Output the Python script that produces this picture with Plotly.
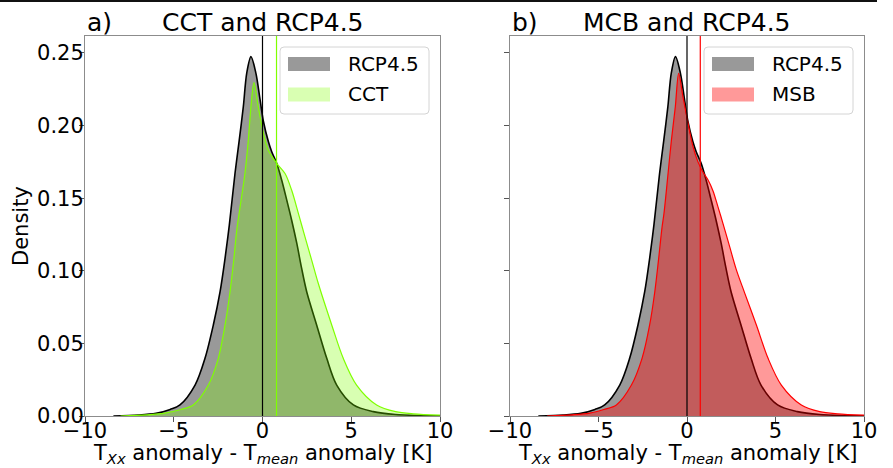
import plotly.graph_objects as go

# ---- data ----
rcp_x = [-8.4, -7.0, -6.0, -5.2, -4.65, -3.8, -3.24, -2.77, -2.39, -2.11, -1.87, -1.55, -1.31, -1.08,
         -0.89, -0.65, -0.37, -0.14, 0.05, 0.33, 0.52, 0.8, 1.08, 1.36, 1.64, 1.93, 2.2, 2.49,
         3.05, 3.62, 4.18, 5.12, 6.24, 7.5, 9.0, 10.0]
rcp_y = [0.0, 0.0006, 0.0018, 0.0045, 0.0076, 0.0213, 0.0397, 0.0627, 0.0856, 0.1086, 0.1315,
         0.167, 0.190, 0.213, 0.236, 0.2475, 0.236, 0.218, 0.203, 0.189, 0.182, 0.174, 0.1625,
         0.149, 0.135, 0.119, 0.102, 0.0856, 0.0627, 0.0397, 0.0213, 0.0076, 0.003, 0.001,
         0.0003, 0.0001]

cct_x = [-8.0, -6.5, -5.5, -4.6, -3.9, -3.05, -2.49, -2.11, -1.83, -1.61, -1.45, -1.25, -0.99,
         -0.8, -0.65, -0.48, -0.24, 0.01, 0.33, 0.8, 1.27, 1.64, 2.02, 2.39, 2.77, 3.14, 3.9,
         4.55, 5.3, 6.43, 7.5, 8.5, 10.0]
cct_y = [0.0, 0.0008, 0.002, 0.0045, 0.0076, 0.0213, 0.0397, 0.0627, 0.0856, 0.1086, 0.128,
         0.145, 0.167, 0.190, 0.213, 0.2296, 0.213, 0.197, 0.183, 0.174, 0.167, 0.1556, 0.1396,
         0.1235, 0.1074, 0.0914, 0.0627, 0.0397, 0.0213, 0.0076, 0.003, 0.0015, 0.0006]

msb_x = [-7.9, -6.5, -5.5, -4.7, -3.99, -3.14, -2.54, -2.11, -1.82, -1.6, -1.41, -1.30, -1.07,
         -0.88, -0.66, -0.47, -0.23, 0.06, 0.34, 0.62, 0.9, 1.19, 1.47, 1.75, 2.03, 2.41, 2.79,
         3.25, 3.92, 4.58, 5.33, 6.46, 7.5, 8.5, 10.0]
msb_y = [0.0, 0.0008, 0.002, 0.0045, 0.0076, 0.0213, 0.0397, 0.0627, 0.0856, 0.1086, 0.13,
         0.1396, 0.167, 0.190, 0.213, 0.236, 0.22, 0.2016, 0.1855, 0.175, 0.168, 0.1625, 0.1550,
         0.144, 0.1327, 0.1166, 0.1006, 0.085, 0.0627, 0.0397, 0.0213, 0.0076, 0.003, 0.0015,
         0.0006]

rcp_mean = 0.0
cct_mean = 0.79
msb_mean = 0.75

x_ticks = [-10, -5, 0, 5, 10]
y_ticks = [0.0, 0.05, 0.10, 0.15, 0.20, 0.25]

titles = ["CCT and RCP4.5", "MCB and RCP4.5"]
panel_tags = ["a)", "b)"]
legend_a = ["RCP4.5", "CCT"]
legend_b = ["RCP4.5", "MSB"]
x_label = "T<sub><i>Xx</i></sub> anomaly - T<sub><i>mean</i></sub> anomaly [K]"
y_label = "Density"

FONT = "DejaVu Sans"
W, H = 893, 468

fig = go.Figure()

GRAY_FILL = "rgba(0,0,0,0.4)"
GREEN = "rgb(127,255,0)"
GREEN_FILL = "rgba(127,255,0,0.3)"
RED = "rgb(255,0,0)"
RED_FILL = "rgba(255,0,0,0.4)"
SMOOTH = 0.9

series = [
    (rcp_x, rcp_y, "black", 1.6, GRAY_FILL, "x", "y", "RCP4.5"),
    (cct_x, cct_y, GREEN, 1.2, GREEN_FILL, "x", "y", "CCT"),
    (rcp_x, rcp_y, "black", 1.6, GRAY_FILL, "x2", "y2", "RCP4.5"),
    (msb_x, msb_y, RED, 1.2, RED_FILL, "x2", "y2", "MSB"),
]
for xs, ys, col, lw, fc, xa, ya, nm in series:
    fig.add_trace(go.Scatter(x=xs, y=ys, mode="lines", fill="tozeroy", fillcolor=fc, name=nm,
                             line=dict(color=col, width=lw, shape="spline", smoothing=SMOOTH),
                             showlegend=False, xaxis=xa, yaxis=ya))

# vertical mean lines
for xv, col, xr in [(rcp_mean, "black", "x"), (cct_mean, GREEN, "x"),
                    (rcp_mean, "black", "x2"), (msb_mean, RED, "x2")]:
    fig.add_shape(type="line", xref=xr, yref=xr.replace("x", "y") + " domain",
                  x0=xv, x1=xv, y0=0, y1=1, line=dict(color=col, width=1.2))

# top border line of the figure
fig.add_shape(type="line", xref="paper", yref="paper", x0=0, x1=877 / W, y0=1 - 1 / H, y1=1 - 1 / H,
              line=dict(color="#111111", width=2))

xdom_a = [85 / W, 440 / W]
xdom_b = [510 / W, 864 / W]
ydom = [(H - 416) / H, (H - 36) / H]

axis_common = dict(showline=True, mirror=True, linecolor="#8c8c8c", linewidth=1, ticks="outside",
                   ticklen=5, tickcolor="#555555", showgrid=False, zeroline=False, automargin=False,
                   tickfont=dict(family=FONT, size=21, color="black"))

fig.update_layout(
    width=W, height=H, paper_bgcolor="white", plot_bgcolor="white",
    margin=dict(l=0, r=0, t=0, b=0, autoexpand=False),
    font=dict(family=FONT, color="black"),
    showlegend=False,
    xaxis=dict(domain=xdom_a, anchor="y", range=[-10, 10], tickvals=x_ticks,
               ticklabelstandoff=-9, **axis_common),
    yaxis=dict(domain=ydom, anchor="x", range=[0, 0.2617], tickvals=y_ticks, tickformat=".2f",
               ticklabelstandoff=-9, **axis_common),
    xaxis2=dict(domain=xdom_b, anchor="y2", range=[-10, 10], tickvals=x_ticks,
                ticklabelstandoff=-9, **axis_common),
    yaxis2=dict(domain=ydom, anchor="x2", range=[0, 0.2617], tickvals=y_ticks,
                showticklabels=False, **axis_common),
)

# axis titles
for dom in (xdom_a, xdom_b):
    fig.add_annotation(text=x_label, xref="paper", yref="paper", x=(dom[0] + dom[1]) / 2,
                       y=(H - 454) / H, xanchor="center", yanchor="middle", showarrow=False,
                       font=dict(family=FONT, size=21, color="black"))
fig.add_annotation(text=y_label, xref="paper", yref="paper", x=21 / W, y=(ydom[0] + ydom[1]) / 2,
                   xanchor="center", yanchor="middle", textangle=-90, showarrow=False,
                   font=dict(family=FONT, size=21, color="black"))

# panel titles
for i, (tag, title) in enumerate(zip(panel_tags, titles)):
    dom = xdom_a if i == 0 else xdom_b
    fig.add_annotation(text=tag, xref="paper", yref="paper", x=dom[0], y=(H - 22) / H,
                       xanchor="left", yanchor="middle", showarrow=False,
                       font=dict(family=FONT, size=25, color="black"))
    fig.add_annotation(text=title, xref="paper", yref="paper", x=(dom[0] + dom[1]) / 2,
                       y=(H - 22) / H, xanchor="center", yanchor="middle", showarrow=False,
                       font=dict(family=FONT, size=25, color="black"))

# legends (drawn in pixel layout relative to each panel's right edge)
def rounded_box(x0, y0, x1, y1, r):
    X = lambda px: px / W
    Y = lambda py: 1 - py / H
    return (f"M{X(x0 + r)},{Y(y0)} L{X(x1 - r)},{Y(y0)} Q{X(x1)},{Y(y0)} {X(x1)},{Y(y0 + r)} "
            f"L{X(x1)},{Y(y1 - r)} Q{X(x1)},{Y(y1)} {X(x1 - r)},{Y(y1)} "
            f"L{X(x0 + r)},{Y(y1)} Q{X(x0)},{Y(y1)} {X(x0)},{Y(y1 - r)} "
            f"L{X(x0)},{Y(y0 + r)} Q{X(x0)},{Y(y0)} {X(x0 + r)},{Y(y0)} Z")

for dom, labels, colors in [(xdom_a, legend_a, ["rgb(153,153,153)", "rgb(217,255,178)"]),
                            (xdom_b, legend_b, ["rgb(153,153,153)", "rgb(255,153,153)"])]:
    right = dom[1] * W
    bx1 = right - 11
    bx0 = bx1 - 149
    fig.add_shape(type="path", xref="paper", yref="paper", path=rounded_box(bx0, 47, bx1, 114, 4),
                  fillcolor="rgba(255,255,255,0.8)", line=dict(color="#d4d4d4", width=1))
    for k, (lab, col) in enumerate(zip(labels, colors)):
        cy = 64 + k * 30.5
        fig.add_shape(type="rect", xref="paper", yref="paper",
                      x0=(bx0 + 8) / W, x1=(bx0 + 50) / W, y0=1 - (cy - 7) / H, y1=1 - (cy + 7) / H,
                      fillcolor=col, line=dict(width=0))
        fig.add_annotation(text=lab, xref="paper", yref="paper", x=(bx0 + 66) / W, y=1 - cy / H,
                           xanchor="left", yanchor="middle", showarrow=False,
                           font=dict(family=FONT, size=20, color="black"))

fig.write_html("out.html", post_script="document.body.style.margin='0';",
               config={"displayModeBar": False})
